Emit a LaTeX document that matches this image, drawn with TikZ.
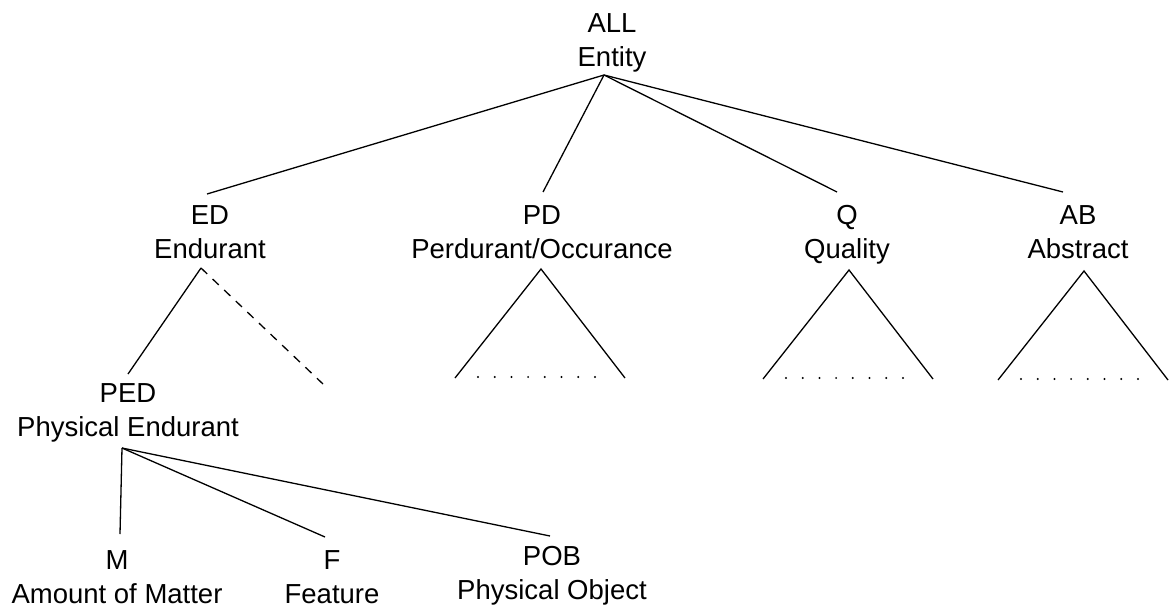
\documentclass[tikz,border=0pt]{standalone}
\usepackage{fontspec}
\setmainfont{Liberation Sans}
\begin{document}
\begin{tikzpicture}[x=1pt,y=-1pt,
  concept/.style={align=center, inner sep=0pt, anchor=north,
    font=\fontsize{27.5}{34}\selectfont},
  edge/.style={line width=1.3pt},
  openedge/.style={edge, dash pattern=on 8.5pt off 7.5pt},
  subtree/.pic={
    \draw[edge, line join=miter] (-86,109) -- (0,0) -- (84,109);
    \foreach \i in {0,...,7}
      \fill ({-63+\i*16.7},108) circle (1.1);
  }]
\useasboundingbox (0,0) rectangle (1169,608);

% concepts of the taxonomy
\node[concept] (all) at (612,13)  {ALL\\Entity};
\node[concept] (ed)  at (210,205) {ED\\Endurant};
\node[concept] (pd)  at (542,205) {PD\\Perdurant/Occurance};
\node[concept] (q)   at (847,205) {Q\\Quality};
\node[concept] (ab)  at (1078,205) {AB\\Abstract};
\node[concept] (ped) at (128,383) {PED\\Physical Endurant};
\node[concept] (m)   at (117,550) {M\\Amount of Matter};
\node[concept] (f)   at (332,550) {F\\Feature};
\node[concept] (pob) at (552,546) {POB\\Physical Object};

% attachment points below and above the labels
\coordinate (all-root) at (604,75);
\coordinate (ed-in)    at (207,194);
\coordinate (pd-in)    at (543,192);
\coordinate (q-in)     at (837,192);
\coordinate (ab-in)    at (1063,192);
\coordinate (ed-root)  at (201,268);
\coordinate (ped-in)   at (128,374);
\coordinate (ed-open)  at (323,384);
\coordinate (ped-root) at (122,448);
\coordinate (m-in)     at (120,534);
\coordinate (f-in)     at (325,537);
\coordinate (pob-in)   at (550,536);

% top level
\foreach \t in {ed,pd,q,ab}
  \draw[edge] (all-root) -- (\t-in);

% endurant branch
\draw[edge] (ed-root) -- (ped-in);
\draw[openedge] (ed-root) -- (ed-open);

% physical endurant branch
\foreach \t in {m,f,pob}
  \draw[edge] (ped-root) -- (\t-in);

% collapsed subtrees
\pic at (541,269) {subtree};
\pic at (849,270) {subtree};
\pic at (1084,271) {subtree};
\end{tikzpicture}
\end{document}
